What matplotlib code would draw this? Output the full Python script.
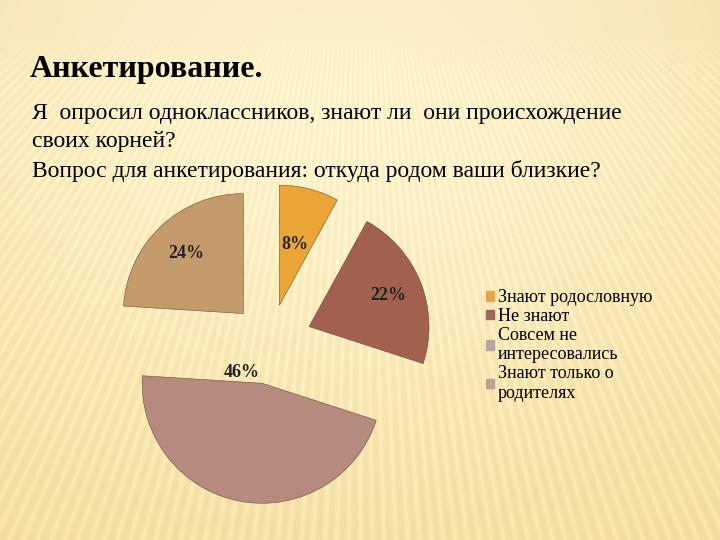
import numpy as np
import matplotlib.pyplot as plt
from matplotlib.patches import Rectangle

# данные диаграммы
labels = ["Знают родословную", "Не знают", "Совсем не\nинтересовались", "Знают только о\nродителях"]
values = [8, 22, 46, 24]
colors = ["#EBA537", "#A2614F", "#B58A7F", "#C49A6D"]
legend_colors = ["#E3A84A", "#9C6A5C", "#B9A59E", "#BBA48E"]
explode = [0.38, 0.42, 0.42, 0.39]
pct_dist = [0.52, 0.71, 0.0, 0.69]

title = "Анкетирование."
body = ("Я  опросил одноклассников, знают ли  они происхождение\n"
        "своих корней?\n"
        "Вопрос для анкетирования: откуда родом ваши близкие?")

plt.rcParams['font.family'] = ['Liberation Serif', 'DejaVu Serif']

fig = plt.figure(figsize=(7.2, 5.4), dpi=100)

# фон: бежевый градиент с лучами
bg = fig.add_axes([0, 0, 1, 1], zorder=-1)
H, W = 540, 720
yy, xx = np.mgrid[0:H, 0:W]
theta = np.arctan2(xx - 360, yy + 250)
rays = (0.5 + 0.5 * np.cos(theta * 420)) ** 2
band = np.clip((yy - 35) / 45, 0, 1)
glow = np.exp(-(((xx - 330) / 560) ** 2 + ((yy - 80) / 430) ** 2))
top = np.array([0.988, 0.94, 0.79])
low = np.array([0.935, 0.84, 0.58])
img = low + (top - low) * glow[..., None]
img = img + 0.04 * (rays * band)[..., None]
bg.imshow(np.clip(img, 0, 1), extent=[0, W, H, 0], aspect='auto')
bg.set_xlim(0, W)
bg.set_ylim(H, 0)
bg.axis('off')

fig.text(30 / 720, 1 - 77 / 540, title, fontsize=23, fontweight='bold', va='baseline')
fig.text(32 / 720, 1 - 103 / 540, body, fontsize=17, va='top', linespacing=1.45)

# круговая диаграмма
ax = fig.add_axes([110 / 720, 38 / 540, 320 / 720, 320 / 540])
wedges, texts, autotexts = ax.pie(
    values, colors=colors, startangle=90, counterclock=False,
    explode=explode, radius=1.2, autopct='%d%%',
    wedgeprops=dict(edgecolor='#6b4a3a', linewidth=0.4),
    textprops=dict(fontsize=13, fontweight='bold', color='#222222'))
ax.set_xlim(-1.6, 1.6)
ax.set_ylim(-1.6, 1.6)
ax.set_aspect('equal')

for w, t, d in zip(wedges, autotexts, pct_dist):
    w.set_clip_on(False)
    mid = np.deg2rad((w.theta1 + w.theta2) / 2)
    cx, cy = w.center
    t.set_position((cx + d * w.r * np.cos(mid), cy + d * w.r * np.sin(mid)))

# подпись 46% у вершины сектора, как в оригинале
cx, cy = wedges[2].center
autotexts[2].set_position((cx - 0.2, cy + 0.02))
autotexts[2].set_va('bottom')

handles = [Rectangle((0, 0), 1, 1, color=c) for c in legend_colors]
fig.legend(handles, labels, loc='upper left', bbox_to_anchor=(479 / 720, 1 - 282 / 540),
           frameon=False, fontsize=13, handlelength=0.45, handleheight=0.45,
           handletextpad=0.2, labelspacing=0.1, borderaxespad=0)

fig.savefig('out.png', dpi=100)
